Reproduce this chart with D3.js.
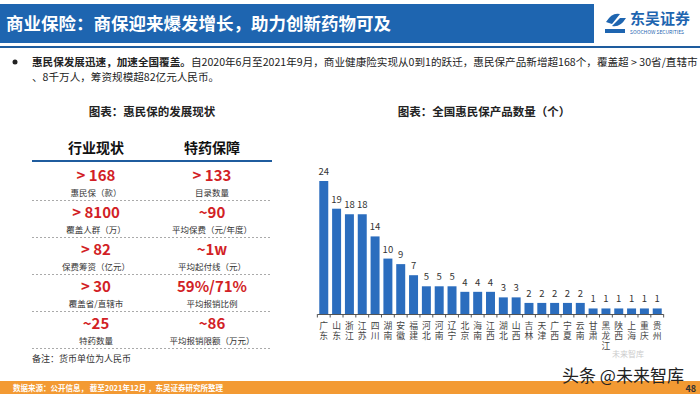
<!DOCTYPE html>
<html>
<head>
<meta charset="utf-8">
<style>
    body { margin: 0; background: #fff; }
    svg { display: block; font-family: "Noto Sans CJK SC", "Noto Sans", sans-serif; }
</style>
</head>
<body>
<svg width="700" height="394"></svg>
<script src="https://d3js.org/d3.v7.min.js"></script>
<script>
    // chart data
    const provinces = ["广东", "山东", "浙江", "江苏", "四川", "湖南", "安徽", "福建", "河北", "河南", "辽宁",
        "北京", "海南", "江西", "湖北", "山西", "吉林", "天津", "广西", "宁夏", "云南",
        "甘肃", "黑龙江", "陕西", "上海", "重庆", "贵州"];
    const counts = [24, 19, 18, 18, 14, 10, 9, 7, 5, 5, 5, 4, 4, 4, 3, 3, 2, 2, 2, 2, 2, 1, 1, 1, 1, 1, 1];

    // left table
    const leftStats = ["> 168", "> 8100", "> 82", "> 30", "~25"];
    const leftLabels = ["惠民保（款）", "覆盖人群（万）", "保费筹资（亿元）", "覆盖省/直辖市", "特药数量"];
    const rightStats = ["> 133", "~90", "~1w", "59%/71%", "~86"];
    const rightLabels = ["目录数量", "平均保费（元/年度）", "平均起付线（元）", "平均报销比例", "平均报销限额（万元）"];

    const svg = d3.select("svg");

    // header
    svg.append("rect").attr("x", 0).attr("y", 4).attr("width", 594).attr("height", 39).attr("fill", "#1E65B0");
    svg.append("rect").attr("x", 0).attr("y", 46).attr("width", 700).attr("height", 2).attr("fill", "#1E5C9E");
    svg.append("text").attr("x", 6).attr("y", 30)
        .attr("fill", "#fff").style("font-size", "17.5px").style("font-weight", "bold")
        .text("商业保险：商保迎来爆发增长，助力创新药物可及");

    // logo
    const logo = svg.append("g");
    logo.append("path").attr("d", "M606,22 q6,-10 14,-8 l-8,10 z M612,26 q8,2 14,-8 l-6,0 z").attr("fill", "#1E65B0");
    logo.append("rect").attr("x", 605).attr("y", 29).attr("width", 20).attr("height", 4).attr("fill", "#1E65B0");
    logo.append("text").attr("x", 630).attr("y", 24).attr("fill", "#1E65B0")
        .style("font-size", "15px").style("font-weight", "bold").text("东吴证券");
    logo.append("text").attr("x", 630).attr("y", 34).attr("fill", "#1E65B0")
        .style("font-size", "5px").text("SOOCHOW SECURITIES");

    // bullet text
    svg.append("circle").attr("cx", 15).attr("cy", 62).attr("r", 2.5).attr("fill", "#222");
    const t1 = svg.append("text").attr("x", 32).attr("y", 66).style("font-size", "10.6px").attr("fill", "#222");
    t1.append("tspan").style("font-weight", "bold").text("惠民保发展迅速，加速全国覆盖。");
    t1.append("tspan").text("自2020年6月至2021年9月，商业健康险实现从0到1的跃迁，惠民保产品新增超168个，覆盖超 > 30省/直辖市");
    svg.append("text").attr("x", 32).attr("y", 81).style("font-size", "10.6px").attr("fill", "#222")
        .text("、8千万人，筹资规模超82亿元人民币。");

    // left panel
    svg.append("text").attr("x", 152).attr("y", 116).attr("text-anchor", "middle")
        .style("font-size", "11.5px").style("font-weight", "bold").attr("fill", "#222")
        .text("图表：惠民保的发展现状");

    const colX = [96, 212];
    svg.selectAll(".colhead").data(["行业现状", "特药保障"]).join("text")
        .attr("x", (d, i) => colX[i]).attr("y", 153).attr("text-anchor", "middle")
        .style("font-size", "14px").style("font-weight", "bold").attr("fill", "#111")
        .text(d => d);
    svg.append("line").attr("x1", 32).attr("x2", 272).attr("y1", 161).attr("y2", 161)
        .attr("stroke", "#1F5C9E").attr("stroke-width", 2);

    const row = d3.scaleLinear().domain([0, 4]).range([0, 148]);
    const rows = svg.append("g").selectAll("g").data(leftStats).join("g")
        .attr("transform", (d, i) => `translate(0,${row(i)})`);
    rows.append("text").attr("x", colX[0]).attr("y", 181).attr("text-anchor", "middle")
        .style("font-size", "15px").style("font-weight", "bold").attr("fill", "#D21F26").text(d => d);
    rows.append("text").attr("x", colX[1]).attr("y", 181).attr("text-anchor", "middle")
        .style("font-size", "15px").style("font-weight", "bold").attr("fill", "#D21F26").text((d, i) => rightStats[i]);
    rows.append("text").attr("x", colX[0]).attr("y", 196).attr("text-anchor", "middle")
        .style("font-size", "8.5px").attr("fill", "#333").text((d, i) => leftLabels[i]);
    rows.append("text").attr("x", colX[1]).attr("y", 196).attr("text-anchor", "middle")
        .style("font-size", "8.5px").attr("fill", "#333").text((d, i) => rightLabels[i]);
    rows.append("line").attr("x1", 32).attr("x2", 272).attr("y1", 200.5).attr("y2", 200.5)
        .attr("stroke", "#aaa").attr("stroke-dasharray", "2,2");

    svg.append("text").attr("x", 32).attr("y", 362).style("font-size", "9px").attr("fill", "#333")
        .text("备注：货币单位为人民币");

    // right chart
    svg.append("text").attr("x", 484).attr("y", 116).attr("text-anchor", "middle")
        .style("font-size", "11.5px").style("font-weight", "bold").attr("fill", "#222")
        .text("图表：全国惠民保产品数量（个）");

    const x = d3.scaleBand().domain(provinces).range([318, 663]).paddingInner(0.3).paddingOuter(0.1);
    const y = d3.scaleLinear().domain([0, 24]).range([314, 181]);

    svg.append("g").selectAll("rect").data(counts).join("rect")
        .attr("x", (d, i) => x(provinces[i]))
        .attr("y", d => y(d))
        .attr("width", x.bandwidth())
        .attr("height", d => y(0) - y(d))
        .attr("fill", "#2B6DBE");

    svg.append("g").selectAll("text").data(counts).join("text")
        .attr("x", (d, i) => x(provinces[i]) + x.bandwidth() / 2)
        .attr("y", d => y(d) - 6)
        .attr("text-anchor", "middle")
        .style("font-size", "9.5px").attr("fill", "#333")
        .text(d => d);

    // axis with ticks between categories
    const step = x.step();
    const ax = svg.append("g");
    ax.append("line").attr("x1", 318).attr("x2", 663).attr("y1", y(0) + 0.5).attr("y2", y(0) + 0.5)
        .attr("stroke", "#555");
    const edges = provinces.map(p => x(p) - step * x.paddingInner() / 2)
        .concat([x(provinces[provinces.length - 1]) + x.bandwidth() + step * x.paddingInner() / 2]);
    ax.selectAll("line.tk").data(edges).join("line").attr("class", "tk")
        .attr("x1", d => d).attr("x2", d => d).attr("y1", y(0)).attr("y2", y(0) + 3.5)
        .attr("stroke", "#555");

    // vertical category labels
    svg.append("g").selectAll("text").data(provinces).join("text")
        .attr("x", p => x(p) + x.bandwidth() / 2)
        .attr("y", 321)
        .style("writing-mode", "vertical-rl")
        .style("letter-spacing", "1.3px")
        .style("font-size", "8.8px").attr("fill", "#444")
        .text(p => p);

    // footer
    svg.append("rect").attr("x", 0).attr("y", 381).attr("width", 700).attr("height", 13).attr("fill", "#F39A33");
    svg.append("text").attr("x", 13).attr("y", 390.5).style("font-size", "7.5px").style("font-weight", "bold")
        .attr("fill", "#fff").text("数据来源：公开信息， 截至2021年12月 ，东吴证券研究所整理");
    svg.append("text").attr("x", 696).attr("y", 392).attr("text-anchor", "end")
        .style("font-size", "9px").style("font-weight", "bold").attr("fill", "#333").text("48");

    // watermark
    svg.append("text").attr("x", 612).attr("y", 357).style("font-size", "8px").attr("fill", "#ccc")
        .text("未来智库");
    svg.append("text").attr("x", 562).attr("y", 382).style("font-size", "17px").attr("fill", "#222")
        .text("头条 @未来智库");
</script>
</body>
</html>
